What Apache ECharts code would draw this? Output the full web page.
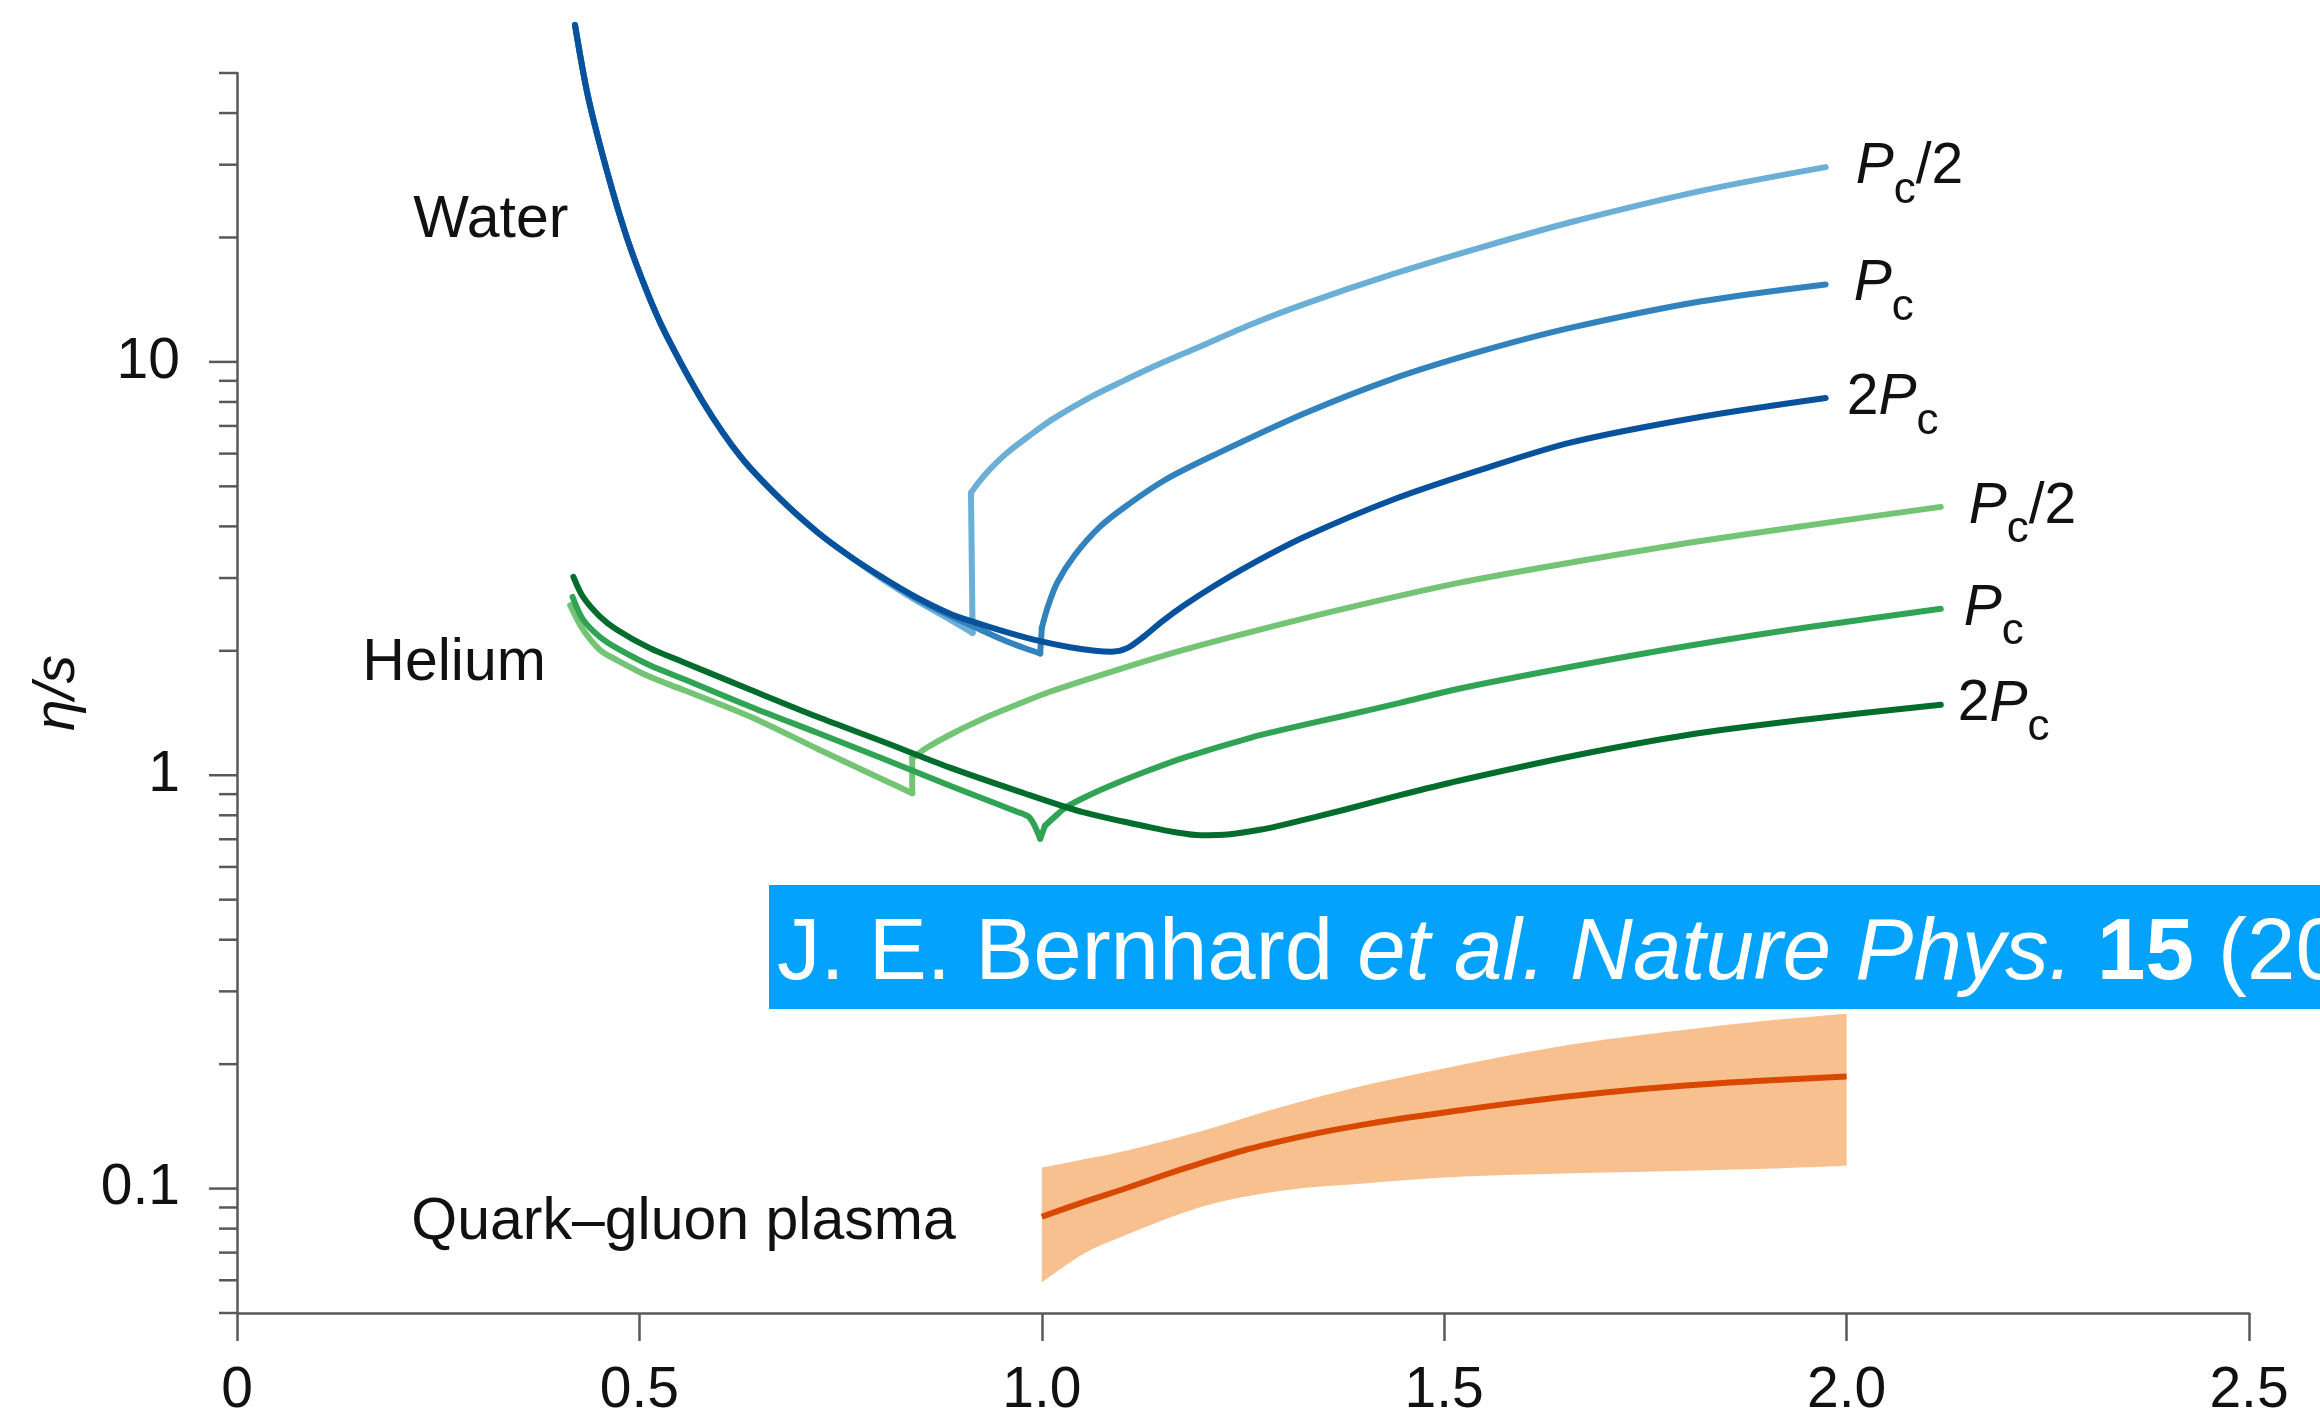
<!DOCTYPE html>
<html>
<head>
<meta charset="utf-8">
<title>η/s — water, helium, quark–gluon plasma</title>
<script src="https://cdn.jsdelivr.net/npm/echarts@6.0.0/dist/echarts.min.js"></script>
<style>
  html, body { margin: 0; padding: 0; background: #ffffff; }
  #chart { width: 2320px; height: 1418px; }
</style>
</head>
<body>
<div id="chart"></div>
<script>
// Specific shear viscosity eta/s against reduced temperature T/Tc (log y axis)

// ---- data: [T/Tc, eta/s] ----
// water, liquid branch shared by all three pressures
const waterLiquid = [[0.420, 65.3], [0.436, 44.0], [0.460, 28.8], [0.484, 20.1], [0.509, 14.85], [0.532, 11.75],
  [0.579, 8.00], [0.626, 5.89], [0.675, 4.66], [0.722, 3.86], [0.762, 3.38]];
// water at Pc/2: below and above the boiling jump
const waterHalfPcLow = [[0.803, 2.97], [0.845, 2.64], [0.886, 2.38], [0.914, 2.21]];
const waterHalfPcHigh = [[0.912, 4.82], [0.921, 5.10], [0.936, 5.51], [0.957, 6.03], [0.986, 6.66], [1.014, 7.28],
  [1.060, 8.21], [1.104, 9.05], [1.135, 9.67], [1.197, 10.9], [1.259, 12.3], [1.326, 13.8], [1.436, 16.3],
  [1.545, 18.9], [1.658, 21.8], [1.818, 25.9], [1.974, 29.6]];
// water at Pc: down to the critical cusp, then up
const waterPcLow = [[0.803, 3.00], [0.845, 2.67], [0.886, 2.43], [0.915, 2.29], [0.956, 2.11], [0.998, 1.97]];
const waterPcHigh = [[1.000, 2.27], [1.007, 2.54], [1.019, 2.92], [1.041, 3.41], [1.072, 3.99], [1.104, 4.47],
  [1.153, 5.18], [1.214, 5.95], [1.326, 7.50], [1.436, 9.10], [1.545, 10.6], [1.658, 12.1], [1.818, 14.0], [1.974, 15.4]];
// water at 2Pc: smooth crossover
const waterTwoPcTail = [[0.803, 3.00], [0.845, 2.69], [0.886, 2.46], [0.915, 2.35], [0.956, 2.22], [0.998, 2.11],
  [1.035, 2.04], [1.066, 2.00], [1.087, 1.99], [1.106, 2.03], [1.126, 2.16], [1.150, 2.36], [1.176, 2.57],
  [1.214, 2.87], [1.259, 3.23], [1.326, 3.77], [1.436, 4.64], [1.545, 5.48], [1.658, 6.39], [1.818, 7.36], [1.974, 8.18]];

// helium
const heliumHalfPcLow = [[0.414, 2.58], [0.430, 2.25], [0.451, 2.01], [0.472, 1.90], [0.513, 1.73], [0.554, 1.61],
  [0.638, 1.385], [0.721, 1.159], [0.803, 0.975], [0.839, 0.905]];
const heliumHalfPcHigh = [[0.839, 1.102], [0.845, 1.121], [0.855, 1.159], [0.886, 1.253], [0.927, 1.370],
  [0.969, 1.481], [1.010, 1.592], [1.094, 1.799], [1.176, 2.01], [1.259, 2.22], [1.376, 2.53], [1.518, 2.92],
  [1.661, 3.28], [1.804, 3.65], [1.947, 4.01], [2.117, 4.46]];
const heliumPcLow = [[0.417, 2.70], [0.430, 2.38], [0.451, 2.16], [0.472, 2.03], [0.513, 1.845], [0.554, 1.712],
  [0.638, 1.465], [0.721, 1.267], [0.803, 1.096], [0.886, 0.943], [0.969, 0.816], [0.985, 0.789], [0.998, 0.702]];
const heliumPcHigh = [[1.004, 0.755], [1.019, 0.803], [1.031, 0.839], [1.060, 0.897], [1.094, 0.959], [1.135, 1.031],
  [1.176, 1.102], [1.259, 1.232], [1.305, 1.296], [1.376, 1.393], [1.445, 1.497], [1.518, 1.619], [1.661, 1.835],
  [1.804, 2.057], [1.947, 2.274], [2.117, 2.527]];
const heliumTwoPc = [[0.418, 3.02], [0.430, 2.70], [0.451, 2.42], [0.472, 2.25], [0.513, 2.03], [0.554, 1.88],
  [0.638, 1.61], [0.721, 1.385], [0.803, 1.205], [0.886, 1.043], [0.969, 0.917], [1.051, 0.814], [1.135, 0.748],
  [1.166, 0.728], [1.197, 0.716], [1.234, 0.720], [1.271, 0.738], [1.305, 0.763], [1.376, 0.825], [1.445, 0.895],
  [1.518, 0.970], [1.661, 1.115], [1.804, 1.253], [1.947, 1.362], [2.117, 1.481]];

// quark-gluon plasma: median and credible band
const qgpT      = [1.0, 1.05, 1.1, 1.2, 1.3, 1.4, 1.5, 1.6, 1.7, 1.8, 1.9, 2.0];
const qgpMedian = [0.0855, 0.0925, 0.0995, 0.1156, 0.1306, 0.1428, 0.1527, 0.1623, 0.1707, 0.1775, 0.1825, 0.1866];
const qgpLower  = [0.0593, 0.0692, 0.0766, 0.0905, 0.0989, 0.1028, 0.1063, 0.1081, 0.1093, 0.1105, 0.1117, 0.1136];
const qgpUpper  = [0.1124, 0.1175, 0.1229, 0.1381, 0.1579, 0.1775, 0.1951, 0.2133, 0.2293, 0.2423, 0.2548, 0.2649];

// axis ticks
const xTickLabels = ['0', '0.5', '1.0', '1.5', '2.0', '2.5'];
const yMajorTicks = [0.1, 1, 10];
const yMinorTicks = [0.05, 0.06, 0.07, 0.08, 0.09, 0.2, 0.3, 0.4, 0.5, 0.6, 0.7, 0.8, 0.9,
  2, 3, 4, 5, 6, 7, 8, 9, 20, 30, 40, 50];

// ---- styling ----
const FONT = "'Liberation Sans', Arial, Helvetica, sans-serif";
const TEXT = '#111111';
const AXIS = '#595959';
const LABEL_SIZE = 57;
const NAME_SIZE = 59;
const CURVE_WIDTH = 6;
const SMOOTH = 0.3;

const pressureRich = {
  p: { fontSize: LABEL_SIZE, fontStyle: 'italic', fontFamily: FONT, fill: TEXT },
  c: { fontSize: 44, fontFamily: FONT, fill: TEXT, padding: [47, 0, 0, 0] },
  n: { fontSize: LABEL_SIZE, fontFamily: FONT, fill: TEXT }
};

// each curve: smooth branches joined by straight jumps
const curves = [
  { branches: [waterLiquid.concat(waterHalfPcLow), waterHalfPcHigh], color: '#6baed6', label: '{p|P}{c|c}{n|/2}', dx: 30 },
  { branches: [waterLiquid.concat(waterPcLow), waterPcHigh],         color: '#3182bd', label: '{p|P}{c|c}',       dx: 28 },
  { branches: [waterLiquid.concat(waterTwoPcTail)],                  color: '#08519c', label: '{n|2}{p|P}{c|c}',  dx: 21 },
  { branches: [heliumHalfPcLow, heliumHalfPcHigh], color: '#74c476', label: '{p|P}{c|c}{n|/2}', dx: 28 },
  { branches: [heliumPcLow, heliumPcHigh],         color: '#31a354', label: '{p|P}{c|c}',       dx: 23 },
  { branches: [heliumTwoPc],                       color: '#006d2c', label: '{n|2}{p|P}{c|c}',  dx: 17 }
];

// where the substance names sit (data space, text left edge / vertical middle)
const regionLabels = [
  { text: 'Water', at: [0.219, 21.9] },
  { text: 'Helium', at: [0.1557, 1.86] },
  { text: 'Quark\u2013gluon plasma', at: [0.2166, 0.0825] }
];

function isDecade(v) {
  return yMajorTicks.some(t => Math.abs(t - v) / t < 1e-6);
}

function lastPoint(c) {
  const b = c.branches[c.branches.length - 1];
  return b[b.length - 1];
}

// cubic path through screen points (Catmull-Rom)
function curvePath(pts, start) {
  let d = (start ? 'M' : 'L') + pts[0][0] + ',' + pts[0][1];
  for (let i = 0; i < pts.length - 1; i++) {
    const p0 = pts[i - 1] || pts[i], p1 = pts[i], p2 = pts[i + 1], p3 = pts[i + 2] || pts[i + 1];
    const k = 1 / 6;
    const c1x = p1[0] + (p2[0] - p0[0]) * k, c1y = p1[1] + (p2[1] - p0[1]) * k;
    const c2x = p2[0] - (p3[0] - p1[0]) * k, c2y = p2[1] - (p3[1] - p1[1]) * k;
    d += ' C' + c1x + ',' + c1y + ' ' + c2x + ',' + c2y + ' ' + p2[0] + ',' + p2[1];
  }
  return d;
}

function tickSeries(values, len) {
  return {
    type: 'custom', coordinateSystem: 'cartesian2d', silent: true, clip: false, z: 3,
    data: values.map(v => [0, v]),
    encode: { x: 0, y: 1 },
    renderItem(params, api) {
      const p = api.coord([api.value(0), api.value(1)]);
      return {
        type: 'line',
        shape: { x1: p[0] - len, y1: p[1], x2: p[0], y2: p[1] },
        style: { stroke: AXIS, lineWidth: 2.5 }
      };
    }
  };
}

function lineSeries(data, color, smooth, z) {
  return {
    type: 'line', data, symbol: 'none', showSymbol: false, clip: false, silent: true, smooth, z,
    lineStyle: { color, width: CURVE_WIDTH, join: 'round', cap: 'round' }
  };
}

const series = [];

// credible band of the QGP estimate
series.push({
  type: 'custom', coordinateSystem: 'cartesian2d', silent: true, z: 1,
  data: [[qgpT[0], qgpMedian[0]]],
  encode: { x: 0, y: 1 },
  renderItem(params, api) {
    const upper = qgpT.map((t, i) => api.coord([t, qgpUpper[i]]));
    const lower = qgpT.map((t, i) => api.coord([t, qgpLower[i]])).reverse();
    return {
      type: 'path',
      shape: { pathData: curvePath(upper, true) + ' ' + curvePath(lower, false) + ' Z' },
      style: { fill: '#f9c08f' }
    };
  }
});
series.push({
  type: 'line', data: qgpT.map((t, i) => [t, qgpMedian[i]]), smooth: true, symbol: 'none', z: 2, silent: true,
  lineStyle: { color: '#d94801', width: 6 }
});

curves.forEach((c, i) => {
  const z = 4 + i * 0.01;
  c.branches.forEach((b, j) => {
    series.push(lineSeries(b, c.color, SMOOTH, z));
    if (j > 0) {
      const prev = c.branches[j - 1];
      series.push(lineSeries([prev[prev.length - 1], b[0]], c.color, false, z));
    }
  });
});

series.push(tickSeries(yMajorTicks, 28));
series.push(tickSeries(yMinorTicks, 18));

// pressure labels at the end of each curve
series.push({
  type: 'custom', coordinateSystem: 'cartesian2d', silent: true, clip: false, z: 6,
  data: curves.map(lastPoint),
  encode: { x: 0, y: 1 },
  renderItem(params, api) {
    const c = curves[params.dataIndex];
    const p = api.coord([api.value(0), api.value(1)]);
    return {
      type: 'text', x: p[0] + c.dx, y: p[1],
      style: { text: c.label, rich: pressureRich, fill: TEXT, fontSize: LABEL_SIZE, fontFamily: FONT,
               align: 'left', verticalAlign: 'middle' }
    };
  }
});

// substance names
series.push({
  type: 'custom', coordinateSystem: 'cartesian2d', silent: true, clip: false, z: 6,
  data: regionLabels.map(l => l.at),
  encode: { x: 0, y: 1 },
  renderItem(params, api) {
    const l = regionLabels[params.dataIndex];
    const p = api.coord([api.value(0), api.value(1)]);
    return {
      type: 'text', x: p[0], y: p[1],
      style: { text: l.text, fill: TEXT, fontSize: NAME_SIZE, fontFamily: FONT, align: 'left', verticalAlign: 'middle' }
    };
  }
});

const chart = echarts.init(document.getElementById('chart'), null, { renderer: 'canvas' });
chart.setOption({
  animation: false,
  backgroundColor: '#ffffff',
  grid: { left: 237, right: 71, top: 73, bottom: 105, containLabel: false, outerBoundsMode: 'none' },
  xAxis: {
    type: 'value', min: 0, max: 2.5, interval: 0.5,
    axisLine: { onZero: false, lineStyle: { color: AXIS, width: 2.5 } },
    axisTick: { length: 28, lineStyle: { color: AXIS, width: 2.5 } },
    axisLabel: {
      margin: 50, color: TEXT, fontSize: LABEL_SIZE, fontFamily: FONT,
      formatter: v => xTickLabels[Math.round(v / 0.5)] ?? String(v)
    },
    splitLine: { show: false }
  },
  yAxis: {
    type: 'log', logBase: 10, min: 0.05, max: 50,
    name: 'η/s', nameLocation: 'middle', nameRotate: 90, nameGap: 150,
    nameTextStyle: { fontSize: LABEL_SIZE, fontStyle: 'italic', color: TEXT, fontFamily: FONT },
    axisLine: { lineStyle: { color: AXIS, width: 2.5 } },
    axisTick: { show: false },
    axisLabel: {
      margin: 57, color: TEXT, fontSize: LABEL_SIZE, fontFamily: FONT,
      showMinLabel: false, showMaxLabel: false,
      formatter: v => (isDecade(v) ? String(+v.toPrecision(6)) : '')
    },
    splitLine: { show: false },
    minorTick: { show: false }
  },
  series,
  graphic: [
    {
      type: 'rect', z: 100, silent: true,
      shape: { x: 769, y: 885, width: 1600, height: 124 },
      style: { fill: '#02a2fd' }
    },
    {
      type: 'text', z: 101, silent: true, x: 777, y: 955,
      style: {
        text: '{r|J. E. Bernhard }{i|et al. Nature Phys.}{b| 15}{r| (2019)}',
        fill: '#ffffff', fontSize: 87, fontFamily: FONT, align: 'left', verticalAlign: 'middle',
        rich: {
          r: { fontSize: 87, fontFamily: FONT, fill: '#ffffff' },
          i: { fontSize: 87, fontFamily: FONT, fontStyle: 'italic', fill: '#ffffff' },
          b: { fontSize: 87, fontFamily: FONT, fontWeight: 'bold', fill: '#ffffff' }
        }
      }
    }
  ]
});
</script>
</body>
</html>
